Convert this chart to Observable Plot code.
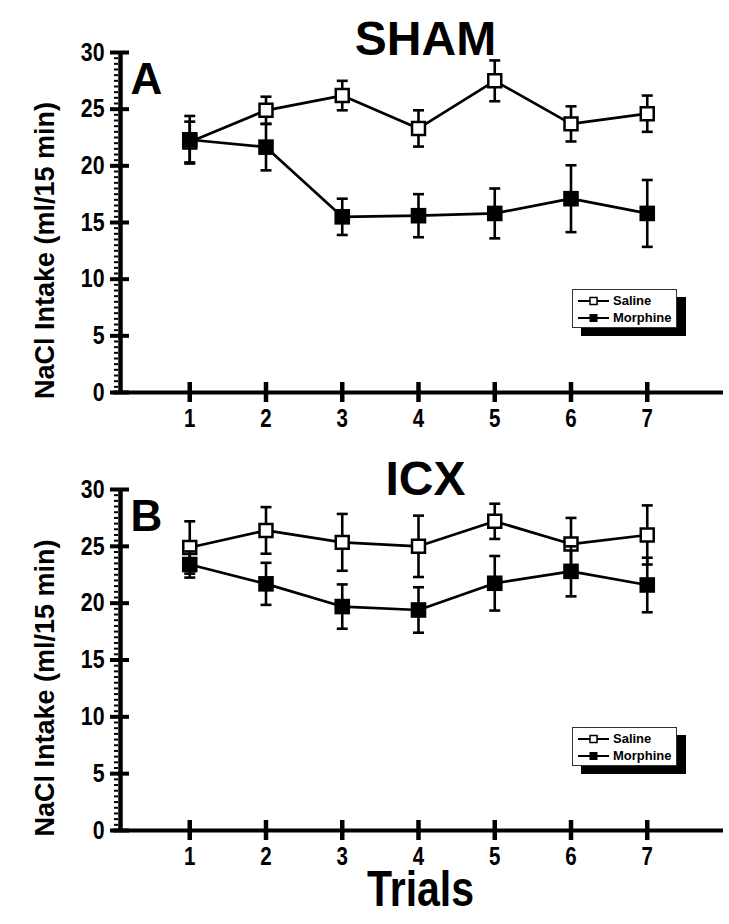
<!DOCTYPE html>
<html><head><meta charset="utf-8">
<script src="https://cdn.jsdelivr.net/npm/d3@7"></script>
<script src="https://cdn.jsdelivr.net/npm/@observablehq/plot@0.6"></script>
<style>
body{margin:0;background:#fff;}
#fig{position:relative;width:729px;height:924px;background:#fff;}
#fig > svg{position:absolute;left:0;}
.legend{position:absolute;left:572px;width:105px;height:39px;box-sizing:border-box;border:1px solid #333;background:#fff;box-shadow:9px 8px 0 0 #000;font:bold 13px "Liberation Sans",Arial,sans-serif;color:#000;}
.legend .row{position:absolute;left:5px;height:14px;display:flex;align-items:center;white-space:nowrap;}
.legend .row svg{display:block;}
.legend .row span{margin-left:4px;line-height:14px;}
</style></head><body><div id="fig"></div><script>
const trials = [1, 2, 3, 4, 5, 6, 7];
const yTicks = [0, 5, 10, 15, 20, 25, 30];
const seriesNames = ["Saline", "Morphine"];

const shamSaline      = [22.1, 24.9, 26.2, 23.3, 27.5, 23.7, 24.6];
const shamSalineErr   = [1.8, 1.2, 1.3, 1.6, 1.8, 1.55, 1.6];
const shamMorphine    = [22.3, 21.65, 15.5, 15.6, 15.8, 17.1, 15.8];
const shamMorphineErr = [2.1, 2.05, 1.6, 1.9, 2.2, 2.95, 2.95];

const icxSaline       = [24.9, 26.4, 25.35, 25.0, 27.2, 25.2, 26.0];
const icxSalineErr    = [2.3, 2.05, 2.5, 2.7, 1.55, 2.3, 2.6];
const icxMorphine     = [23.4, 21.7, 19.7, 19.4, 21.75, 22.8, 21.6];
const icxMorphineErr  = [1.15, 1.85, 1.95, 2.0, 2.4, 2.2, 2.4];

// "Liberation Sans Narrow" is not installed; request it as a marker and compress with textLength
const NARROW = '"Liberation Sans Narrow","Liberation Sans",Arial,sans-serif';
const WIDE = '"Liberation Sans",Arial,sans-serif';

const capSymbol = {draw(ctx) { ctx.moveTo(-5.5, 0); ctx.lineTo(5.5, 0); }};

function rows(vals, errs, group) {
  return trials.map((t, i) => ({trial: t, value: vals[i], lo: vals[i] - errs[i], hi: vals[i] + errs[i], group}));
}

function panel({title, letter, saline, salineErr, morphine, morphineErr, height, marginTop, marginBottom, titleDy, showXLabel}) {
  const S = rows(saline, salineErr, seriesNames[0]);
  const M = rows(morphine, morphineErr, seriesNames[1]);
  const errMarks = (D) => [
    Plot.ruleX(D, {x: "trial", y1: "lo", y2: "hi", stroke: "black", strokeWidth: 2.6}),
    Plot.dot(D, {x: "trial", y: "hi", symbol: capSymbol, stroke: "black", strokeWidth: 2.6, r: 3}),
    Plot.dot(D, {x: "trial", y: "lo", symbol: capSymbol, stroke: "black", strokeWidth: 2.6, r: 3})
  ];
  return Plot.plot({
    width: 729, height, marginTop, marginBottom, marginLeft: 113, marginRight: 6,
    x: {domain: [0, 8], axis: null},
    y: {domain: [yTicks[0], yTicks[yTicks.length - 1]], axis: null},
    style: {background: "transparent", overflow: "visible", fontFamily: WIDE},
    marks: [
      Plot.axisY({ticks: d3.range(yTicks[0], yTicks[yTicks.length - 1] + 0.01, 0.5), tickSize: 4, dx: 5, fill: "none", stroke: "black", strokeWidth: 2, label: null}),
      Plot.ruleX([0], {dx: 7, y1: yTicks[0], y2: yTicks[yTicks.length - 1], stroke: "black", strokeWidth: 4.5}),
      Plot.axisY({ticks: yTicks, tickSize: 19, dx: 16, fill: "none", stroke: "black", strokeWidth: 4, label: null}),
      Plot.axisY({ticks: yTicks, tickSize: 0, tickPadding: 9, fill: "black", fontSize: 26, fontWeight: "bold", fontFamily: NARROW, label: null}),
      Plot.ruleY([0], {stroke: "black", strokeWidth: 4}),
      Plot.axisX({ticks: trials, tickSize: 20, dy: -10, fill: "none", stroke: "black", strokeWidth: 4.5, label: null}),
      Plot.axisX({ticks: trials, tickSize: 0, tickPadding: 17, fill: "black", fontSize: 25, fontWeight: "bold", fontFamily: NARROW, label: null}),
      Plot.line(S, {x: "trial", y: "value", stroke: "black", strokeWidth: 2.7}),
      Plot.line(M, {x: "trial", y: "value", stroke: "black", strokeWidth: 2.7}),
      ...errMarks(S),
      Plot.dot(S, {x: "trial", y: "value", symbol: "square", r: 7.3, fill: "white", stroke: "black", strokeWidth: 2.5}),
      ...errMarks(M),
      Plot.dot(M, {x: "trial", y: "value", symbol: "square", r: 8.8, fill: "black", stroke: "none"}),
      Plot.text([title], {frameAnchor: "top", text: d => d, dx: 7, dy: titleDy, lineAnchor: "bottom", fontSize: 48, fontWeight: "bold", fontFamily: WIDE, fill: "black"}),
      Plot.text([letter], {frameAnchor: "top-left", text: d => d, dx: 17, dy: 41, textAnchor: "start", lineAnchor: "bottom", fontSize: 44, fontWeight: "bold", fontFamily: WIDE, fill: "black"}),
      Plot.text(["NaCl Intake (ml/15 min)"], {frameAnchor: "left", text: d => d, dx: -68, dy: 28, rotate: -90, textAnchor: "middle", lineAnchor: "middle", fontSize: 27, fontWeight: "bold", fontFamily: WIDE, fill: "black"}),
      ...(showXLabel ? [Plot.text(["Trials"], {frameAnchor: "bottom", text: d => d, dx: 2, dy: 75, lineAnchor: "bottom", fontSize: 50, fontWeight: "bold", fontFamily: NARROW, fill: "black"})] : [])
    ]
  });
}

const fig = document.getElementById("fig");
const top1 = panel({title: "SHAM", letter: "A", saline: shamSaline, salineErr: shamSalineErr, morphine: shamMorphine, morphineErr: shamMorphineErr, height: 440, marginTop: 52, marginBottom: 48, titleDy: 2, showXLabel: false});
top1.style.top = "0px";
fig.appendChild(top1);
const bot = panel({title: "ICX", letter: "B", saline: icxSaline, salineErr: icxSalineErr, morphine: icxMorphine, morphineErr: icxMorphineErr, height: 484, marginTop: 49, marginBottom: 94, titleDy: 5, showXLabel: true});
bot.style.top = "440px";
fig.appendChild(bot);

// condense texts that asked for the narrow face
fig.querySelectorAll("svg text").forEach(t => {
  if (getComputedStyle(t).fontFamily.includes("Narrow")) {
    const len = t.getComputedTextLength();
    if (len > 0) {
      t.setAttribute("textLength", (len * 0.82).toFixed(2));
      t.setAttribute("lengthAdjust", "spacingAndGlyphs");
    }
  }
});

function legend(topPx) {
  const div = document.createElement("div");
  div.className = "legend";
  div.style.top = topPx + "px";
  seriesNames.forEach((name, i) => {
    const row = document.createElement("div");
    row.className = "row";
    row.style.top = (i === 0 ? 4 : 21) + "px";
    const filled = i === 1;
    row.innerHTML = `<svg width="31" height="14"><line x1="0" y1="7" x2="31" y2="7" stroke="black" stroke-width="2"/>` +
      (filled ? `<rect x="11.5" y="3" width="8" height="8" fill="black"/>` : `<rect x="12" y="3.5" width="7" height="7" fill="white" stroke="black" stroke-width="1.5"/>`) +
      `</svg><span>${name}</span>`;
    div.appendChild(row);
  });
  fig.appendChild(div);
}
legend(289);
legend(727);
</script></body></html>
